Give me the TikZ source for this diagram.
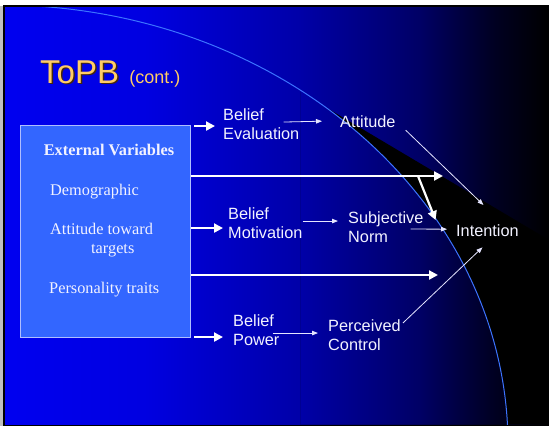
\documentclass[tikz,border=0pt]{standalone}
\usepackage{fontspec}
\setmainfont{Liberation Sans}
\newfontfamily\boxfont{Liberation Serif}
\usetikzlibrary{arrows.meta,positioning}

\definecolor{titlegold}{RGB}{255,204,102}
\definecolor{titleshade}{RGB}{70,40,10}
\definecolor{boxblue}{RGB}{51,102,255}
\definecolor{boxrim}{RGB}{175,190,255}
\definecolor{arcblue}{RGB}{60,115,255}
\definecolor{labelwhite}{RGB}{242,242,255}

% slide background, blue fading into black
\pgfdeclarehorizontalshading{slidebg}{100bp}{rgb(0bp)=(0,0,0.94); rgb(25bp)=(0,0,0.94); rgb(38bp)=(0,0,0.88); rgb(52bp)=(0,0,0.66); rgb(63bp)=(0,0,0.40); rgb(70bp)=(0,0,0.13); rgb(75bp)=(0,0,0); rgb(100bp)=(0,0,0)}

\begin{document}
\begin{tikzpicture}[
    x=1pt, y=-1pt,
    lbl/.style={
        inner sep=0pt,
        text=labelwhite,
        align=left,
        font=\fontsize{16.3}{19.7}\selectfont
    },
    item/.style={
        inner sep=0pt,
        text=labelwhite,
        align=left,
        font=\boxfont\fontsize{16.3}{19.5}\selectfont
    },
    itemhead/.style={item, font=\boxfont\bfseries\fontsize{16.3}{19.5}\selectfont},
    extbox/.style={
        draw=boxrim,
        fill=boxblue,
        line width=0.8pt,
        minimum width=170pt,
        minimum height=212pt,
        inner sep=0pt
    },
    bigarrow/.style={-{Triangle[length=9pt,width=9pt]}, draw=white, line width=2.2pt},
    smallarrow/.style={-{Triangle[length=6pt,width=4.5pt]}, draw=white!90!blue, line width=0.8pt}
]

\useasboundingbox (0,0) rectangle (549,426);

% slide frame and background
\fill[white] (0,0) rectangle (549,426);
\fill[black!25] (0,6) rectangle (3,426);
\fill[black] (3,5) rectangle (549,426);
\shade[shading=slidebg] (5,7) rectangle (549,424);

\begin{scope}
    \clip (300,92) -- (549,240) -- (549,424) -- (300,424) -- cycle;
    \fill[black, even odd rule] (0,445) ellipse [x radius=508, y radius=440] (300,0) rectangle (549,424);
\end{scope}
\begin{scope}
    \clip (5,7) rectangle (549,424);
    \draw[arcblue, line width=1pt] (0,445) ellipse [x radius=508, y radius=440];
\end{scope}

% title
\node[font=\fontsize{33}{36}\selectfont, text=titleshade, anchor=base west, inner sep=0pt] (tshade) at (41.5,84.5) {ToPB};
\node[font=\fontsize{33}{36}\selectfont, text=titlegold, anchor=base west, inner sep=0pt] (title) at (40,83) {ToPB};
\node[font=\fontsize{18}{20}\selectfont, text=titlegold, inner sep=0pt, base right=10pt of title] (cont) {(cont.)};

% external variables
\node[extbox] (ext) at (105.7,231.8) {};
\node[itemhead, anchor=base] (extT) at (109,155) {External Variables};
\node[item, anchor=base west] (demo) at (50,195) {Demographic};
\node[item, anchor=north west] (atti) at (50,222.9) {Attitude toward\\\hspace*{41pt}targets};
\node[item, anchor=base west] (pers) at (49,293) {Personality traits};

% model
\node[lbl, anchor=north west] (bev) at (223,108) {Belief\\Evaluation};
\node[lbl, anchor=base west] (att) at (340,127) {Attitude};
\node[lbl, anchor=north west] (bmot) at (228,207) {Belief\\Motivation};
\node[lbl, anchor=north west] (subj) at (348,211) {Subjective\\Norm};
\node[lbl, anchor=base west] (intn) at (456,236) {Intention};
\node[lbl, anchor=north west] (bpow) at (233,314) {Belief\\Power};
\node[lbl, anchor=north west] (perc) at (328,319) {Perceived\\Control};

\coordinate (bev-in) at ([shift={(-8,2)}]bev.west);
\coordinate (bmot-in) at ([shift={(-5,5)}]bmot.west);
\coordinate (bpow-in) at ([shift={(-10,7)}]bpow.west);
\coordinate (upper-end) at (443,176);
\coordinate (lower-end) at (438,275);
\coordinate (split) at (418,176);

\draw[bigarrow, shorten <=3pt] (ext.east |- bev-in) -- (bev-in);
\draw[bigarrow] (ext.east |- upper-end) -- (upper-end);
\draw[bigarrow] (ext.east |- bmot-in) -- (bmot-in);
\draw[bigarrow] (ext.east |- lower-end) -- (lower-end);
\draw[bigarrow, shorten <=3pt] (ext.east |- bpow-in) -- (bpow-in);
\draw[bigarrow] (split) -- ([shift={(12,-7)}]subj.east);

\draw[smallarrow] ([shift={(-16,-2)}]bev.east) -- ([xshift=-18pt]att.west);
\draw[smallarrow] ([shift={(10,9)}]att.east) -- ([shift={(-4,-19)}]intn.north);
\draw[smallarrow] ([shift={(0,-2)}]bmot.east) -- ([shift={(-10,-6)}]subj.west);
\draw[smallarrow] ([shift={(-13,2)}]subj.east) -- ([shift={(-9,-1)}]intn.west);
\draw[smallarrow] ([shift={(-7,3)}]bpow.east) -- ([shift={(-10,-2)}]perc.west);
\draw[smallarrow] ([shift={(2,-12)}]perc.east) -- ([shift={(-5,11)}]intn.south);

\end{tikzpicture}
\end{document}
